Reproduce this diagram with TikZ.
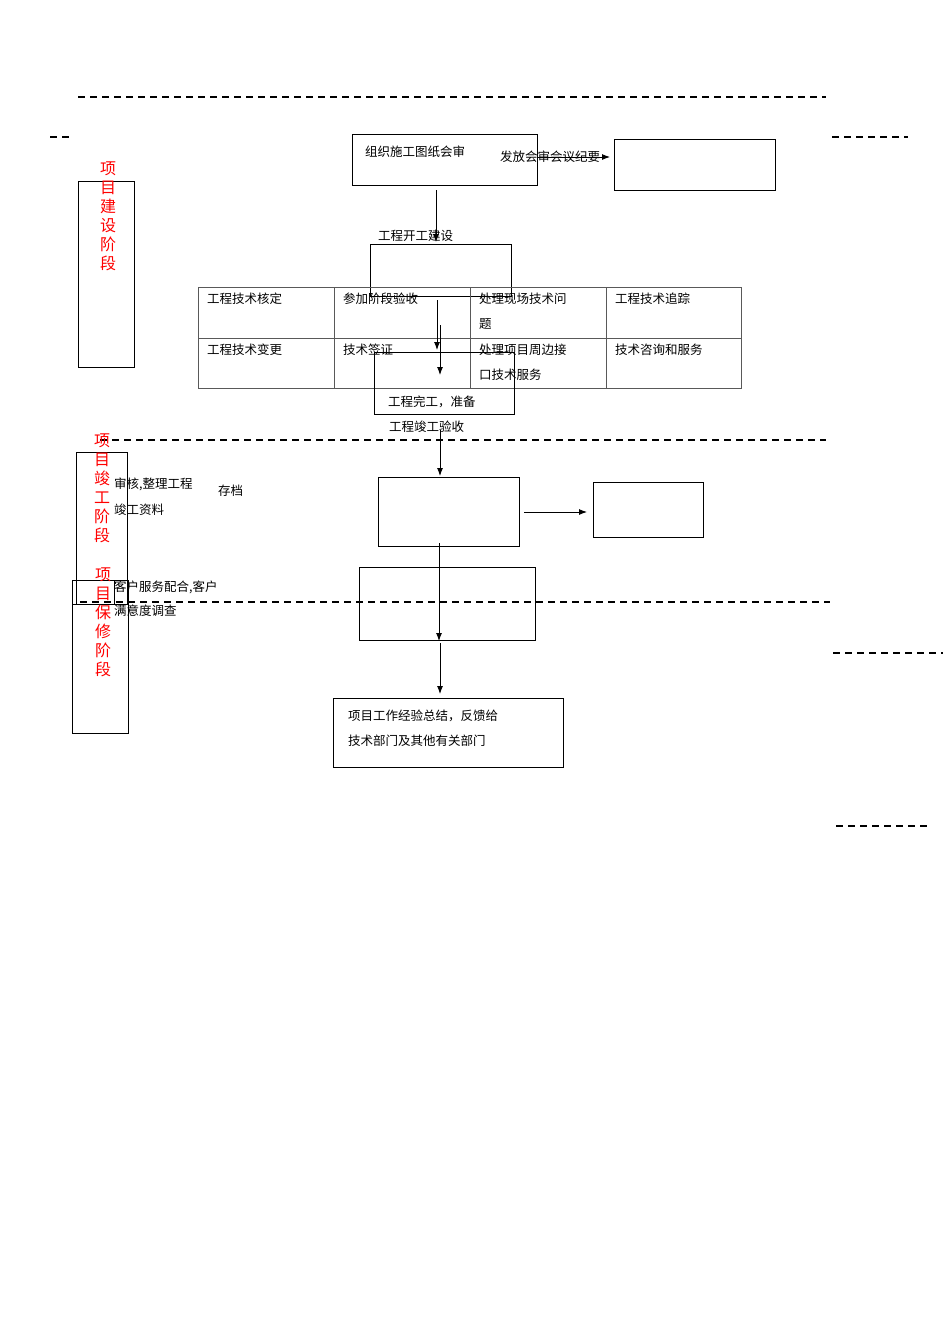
\documentclass[tikz,border=0pt]{standalone}
\usepackage{fontspec}
\setmainfont{Noto Sans CJK SC}
\usetikzlibrary{arrows.meta}
\begin{document}
\begin{tikzpicture}[x=1pt,y=-1pt,
  bx/.style={draw,line width=0.8pt},
  dl/.style={line width=1.6pt,dash pattern=on 7pt off 5pt},
  ar/.style={-{Latex[length=8pt,width=6pt]},line width=0.9pt},
  tx/.style={anchor=west,inner sep=0pt,font=\fontsize{12.5}{14}\selectfont},
  rt/.style={text=red,inner sep=0pt,font=\fontsize{16}{19}\selectfont,align=center,anchor=north}]
\useasboundingbox (0,0) rectangle (950,1344);
% dashed lines
\draw[dl] (78,97)--(826,97);
\draw[dl] (50,137)--(70,137);
\draw[dl] (832,137)--(908,137);
\draw[dl] (100,440)--(826,440);
\draw[dl] (80,602)--(830,602);
\draw[dl] (833,653)--(943,653);
\draw[dl] (836,826)--(930,826);
% top
\draw[bx] (352,134) rectangle (537,185);
\node[tx] (t1) at (365,152) {组织施工图纸会审};
\draw[bx] (614,139) rectangle (775,190);
\node[tx] (t2) at (500,157) {发放会审会议纪要};
\coordinate (a1) at (537,157); \coordinate (a2) at (610,157);
\draw[ar] (a1)--(a2);
\coordinate (b1) at (436,190); \coordinate (b2) at (436,242);
\draw[ar] (b1)--(b2);
\node[tx] (t3) at (378,236) {工程开工建设};
\draw[bx] (370,244) rectangle (511,296);
% table
\draw[line width=0.5pt,gray!70!black] (198,287) rectangle (741,388) (198,338)--(741,338)
  (334,287)--(334,388) (470,287)--(470,388) (606,287)--(606,388);
\node[tx] at (207,299) {工程技术核定};
\node[tx] at (343,299) {参加阶段验收};
\node[tx] at (479,299) {处理现场技术问};
\node[tx] at (479,324) {题};
\node[tx] at (615,299) {工程技术追踪};
\node[tx] at (207,350) {工程技术变更};
\node[tx] at (343,350) {技术签证};
\node[tx] at (479,350) {处理项目周边接};
\node[tx] at (479,375) {口技术服务};
\node[tx] at (615,350) {技术咨询和服务};
\coordinate (c1) at (437,300); \coordinate (c2) at (437,350);
\draw[ar] (c1)--(c2);
\coordinate (d1) at (440,325); \coordinate (d2) at (440,375);
\draw[ar] (d1)--(d2);
\draw[bx] (374,352) rectangle (514,414);
\node[tx] at (388,402) {工程完工，准备};
\node[tx] at (389,427) {工程竣工验收};
\coordinate (e1) at (440,430); \coordinate (e2) at (440,476);
\draw[ar] (e1)--(e2);
% middle
\draw[bx] (378,477) rectangle (519,546);
\coordinate (f1) at (524,512); \coordinate (f2) at (587,512);
\draw[ar] (f1)--(f2);
\draw[bx] (593,482) rectangle (703,537);
\node[tx] at (114,484) {审核,整理工程};
\node[tx] at (114,510) {竣工资料};
\node[tx] at (218,491) {存档};
\coordinate (g1) at (439,543); \coordinate (g2) at (439,641);
\draw[ar] (g1)--(g2);
\draw[bx] (359,567) rectangle (535,640);
\node[tx] at (114,587) {客户服务配合,客户};
\node[tx] at (114,611) {满意度调查};
\coordinate (h1) at (440,643); \coordinate (h2) at (440,694);
\draw[ar] (h1)--(h2);
\draw[bx] (333,698) rectangle (563,767);
\node[tx] at (348,716) {项目工作经验总结，反馈给};
\node[tx] at (348,741) {技术部门及其他有关部门};
% left stage boxes
\draw[bx] (78,181) rectangle (134,367);
\node[rt] at (108,162) {项\\目\\建\\设\\阶\\段};
\draw[bx] (76,452) rectangle (127,604);
\node[rt] at (102,434) {项\\目\\竣\\工\\阶\\段};
\draw[bx] (72,580) rectangle (128,733);
\draw[bx] (72,580) rectangle (114,604);
\node[rt] at (103,568) {项\\目\\保\\修\\阶\\段};
\end{tikzpicture}
\end{document}
